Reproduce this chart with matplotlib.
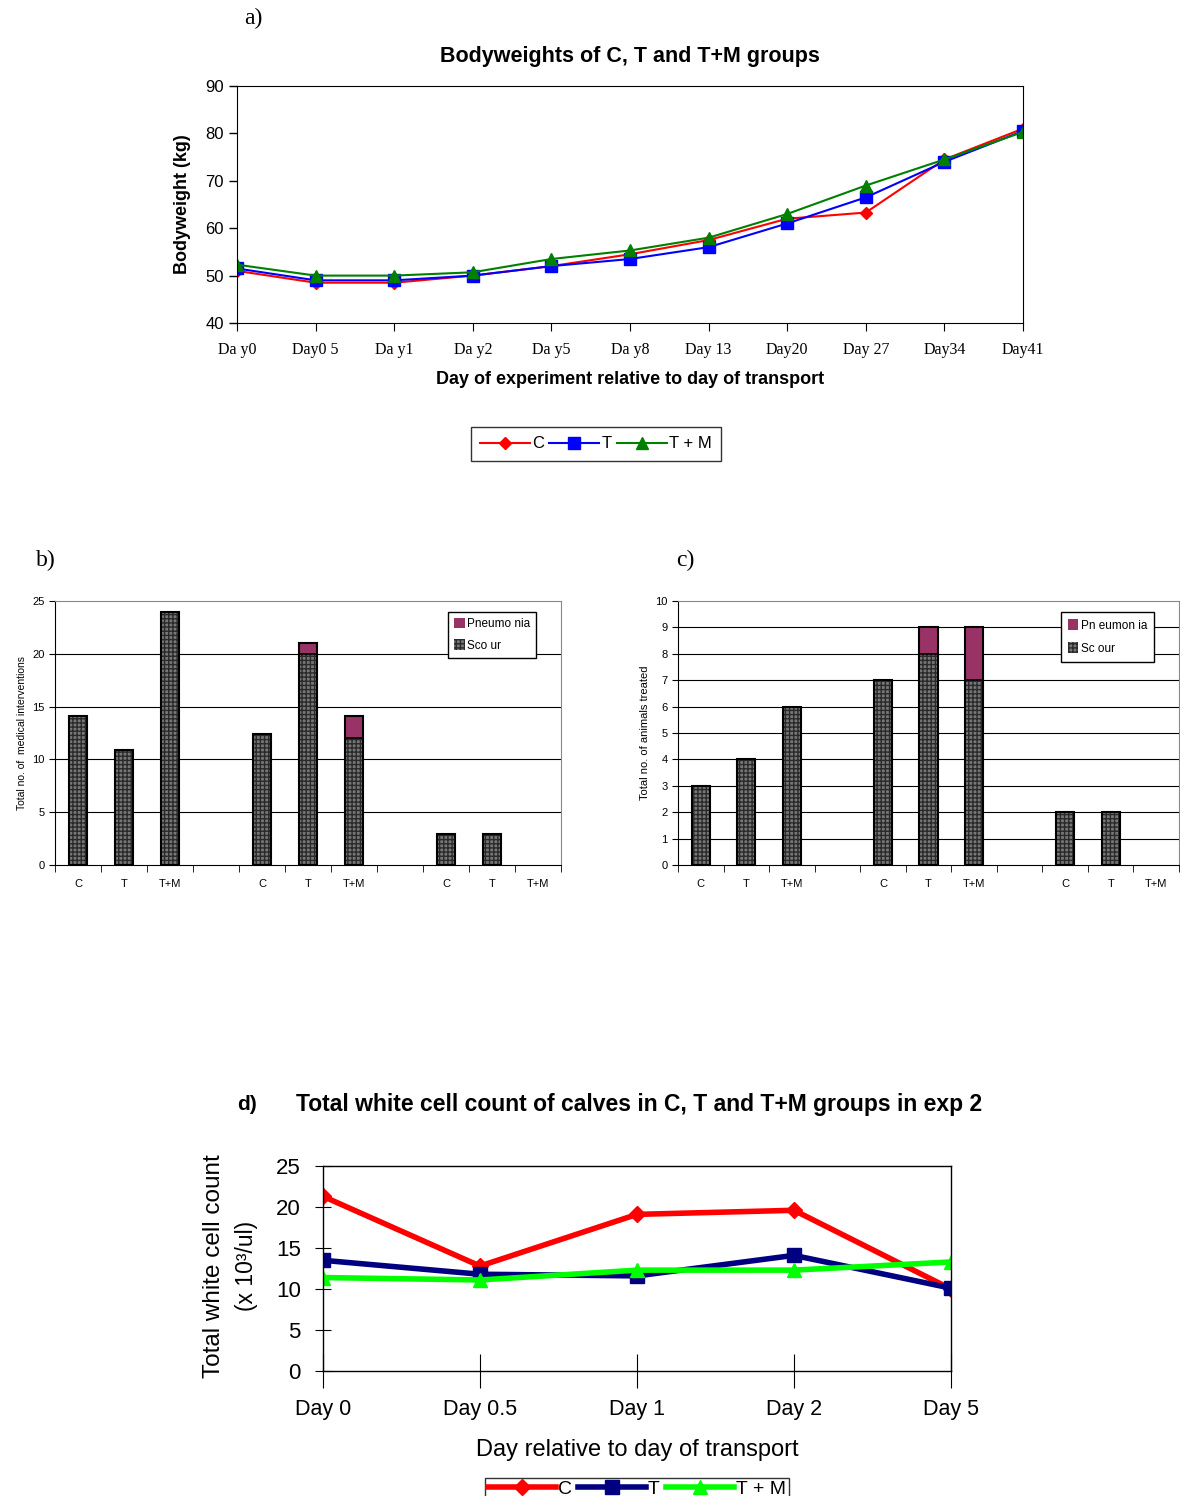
import matplotlib
matplotlib.use("Agg")
import matplotlib.pyplot as plt
import numpy as np

plt.rcParams['font.family'] = ['Liberation Sans', 'DejaVu Sans']

# --- a) bodyweights ---
days_a = ["Da y0", "Day0 5", "Da y1", "Da y2", "Da y5", "Da y8", "Day 13",
          "Day20", "Day 27", "Day34", "Day41"]
bw_c = [51.0, 48.5, 48.5, 50.0, 52.0, 54.5, 57.5, 62.0, 63.3, 74.5, 81.0]
bw_t = [51.5, 49.0, 49.0, 50.0, 52.0, 53.5, 56.0, 61.0, 66.5, 74.0, 80.5]
bw_tm = [52.3, 50.0, 50.0, 50.7, 53.5, 55.3, 58.0, 63.0, 69.0, 74.5, 80.3]

# --- b) / c) treatments ---
groups = ["C", "T", "T+M", "", "C", "T", "T+M", "", "C", "T", "T+M"]
b_scour = [14.1, 10.9, 24.0, 0, 12.4, 20.0, 12.0, 0, 2.9, 2.9, 0]
b_pneu = [0, 0, 0, 0, 0, 1.0, 2.1, 0, 0, 0, 0]
c_scour = [3, 4, 6, 0, 7, 8, 7, 0, 2, 2, 0]
c_pneu = [0, 0, 0, 0, 0, 1, 2, 0, 0, 0, 0]

# --- d) white cell count ---
days_d = ["Day 0", "Day 0.5", "Day 1", "Day 2", "Day 5"]
wcc_c = [21.3, 12.8, 19.1, 19.6, 10.0]
wcc_t = [13.5, 11.8, 11.6, 14.1, 10.1]
wcc_tm = [11.4, 11.1, 12.3, 12.3, 13.3]

W, H = 1180, 1496
fig = plt.figure(figsize=(W / 100, H / 100), dpi=100)


def box(l, t, r, b):
    return fig.add_axes([l / W, 1 - b / H, (r - l) / W, (b - t) / H])


# ---------------- panel a ----------------
ax = box(237, 86, 1023, 323)
x = np.arange(len(days_a))
ax.plot(x, bw_c, color='red', marker='D', ms=6, lw=1.5, label='C')
ax.plot(x, bw_t, color='blue', marker='s', ms=8, lw=1.5, label='T')
ax.plot(x, bw_tm, color='green', marker='^', ms=8, lw=1.5, label='T + M')
ax.set_xlim(0, 10)
ax.set_ylim(40, 90)
ax.set_xticks(x)
ax.set_xticklabels(days_a, family='Liberation Serif', fontsize=11.5)
ax.set_yticks(range(40, 91, 10))
ax.tick_params(axis='y', labelsize=12, length=6, width=1)
ax.tick_params(axis='x', length=6, pad=8)
ax.set_ylabel("Bodyweight (kg)", fontsize=13, fontweight='bold', labelpad=10)
ax.set_xlabel("Day of experiment relative to day of transport", fontsize=13,
              fontweight='bold', labelpad=9)
ax.set_title("Bodyweights of C, T and T+M groups", fontsize=15.5,
             fontweight='bold', pad=17)
ax.legend(loc='center', bbox_to_anchor=(596 / W, 1 - 444 / H),
          bbox_transform=fig.transFigure, ncol=3, frameon=True, fancybox=False,
          edgecolor='black', fontsize=12, handlelength=3, columnspacing=0.3,
          handletextpad=0.15, borderpad=0.55)
fig.text(244 / W, 1 - 18 / H, "a)", family='Liberation Serif', fontsize=17,
         va='center')


def bar_panel(ax, scour, pneu, ymax, step, ylabel, labels, lab_fs):
    pos = np.arange(len(groups))
    ax.bar(pos, scour, width=0.4, color='#777777', edgecolor='#2a2a2a',
           hatch='++++', lw=0, zorder=3, label=labels[1])
    ax.bar(pos, pneu, width=0.4, bottom=scour, color='#993366', lw=0,
           zorder=3, label=labels[0])
    tot = np.array(scour) + np.array(pneu)
    for p, s, t in zip(pos, scour, tot):
        if t > 0:
            ax.bar(p, t, width=0.4, fill=False, edgecolor='black', lw=1.5,
                   zorder=4)
            if t > s:
                ax.plot([p - 0.2, p + 0.2], [s, s], color='black', lw=1.2,
                        zorder=5)
    ax.set_xlim(-0.5, 10.5)
    ax.set_ylim(0, ymax)
    ax.set_yticks(np.arange(0, ymax + 0.1, step))
    for v in np.arange(step, ymax, step):
        ax.axhline(v, color='black', lw=0.8, zorder=1)
    ax.set_xticks(pos)
    ax.set_xticklabels(groups, fontsize=8)
    ax.set_xticks(np.arange(-0.5, 11, 1), minor=True)
    ax.tick_params(axis='x', which='major', length=0, pad=10)
    ax.tick_params(axis='x', which='minor', length=5)
    ax.tick_params(axis='y', labelsize=8, length=4)
    ax.spines['top'].set_color('#888888')
    ax.spines['right'].set_color('#888888')
    ax.set_ylabel(ylabel, fontsize=lab_fs)
    h, l = ax.get_legend_handles_labels()
    return h, l


# ---------------- panel b ----------------
axb = box(55, 601, 561, 865)
h, l = bar_panel(axb, b_scour, b_pneu, 25, 5,
                 "Total no. of  medical interventions",
                 ["Pneumo nia", "Sco ur"], 7.5)
axb.legend([h[1], h[0]], [l[1], l[0]], loc='upper right',
           bbox_to_anchor=(0.963, 0.982), fancybox=False, edgecolor='black',
           fontsize=8.5, handlelength=0.9, handleheight=1.0, handletextpad=0.2,
           borderpad=0.5, labelspacing=0.8, framealpha=1)
fig.text(36 / W, 1 - 560 / H, "b)", family='Liberation Serif', fontsize=17,
         va='center')

# ---------------- panel c ----------------
axc = box(678, 601, 1179, 865)
h, l = bar_panel(axc, c_scour, c_pneu, 10, 1,
                 "Total no. of animals treated",
                 ["Pn eumon ia", "Sc our"], 8)
axc.legend([h[1], h[0]], [l[1], l[0]], loc='upper right',
           bbox_to_anchor=(0.962, 0.98), fancybox=False, edgecolor='black',
           fontsize=8.5, handlelength=0.9, handleheight=1.0, handletextpad=0.2,
           borderpad=0.6, labelspacing=0.9, framealpha=1)
fig.text(676 / W, 1 - 560 / H, "c)", family='Liberation Serif', fontsize=17,
         va='center')

# ---------------- panel d ----------------
axd = box(323, 1166, 951, 1371)
xd = np.arange(len(days_d))
axd.plot(xd, wcc_c, color='#ff0000', marker='D', ms=8, lw=4, label='C')
axd.plot(xd, wcc_t, color='#000080', marker='s', ms=10, lw=4, label='T')
axd.plot(xd, wcc_tm, color='#00ff00', marker='^', ms=10, lw=4, label='T + M')
axd.set_xlim(0, 4)
axd.set_ylim(0, 25)
axd.set_xticks(xd)
axd.set_xticklabels(days_d, fontsize=15.5)
axd.set_yticks(range(0, 26, 5))
axd.tick_params(axis='y', labelsize=16, direction='inout', length=12, pad=10)
axd.tick_params(axis='x', direction='inout', length=24, pad=8)
for s in axd.spines.values():
    s.set_linewidth(1)
fig.text(237 / W, 1 - 1105 / H, "d)", fontsize=15, fontweight='bold',
         va='center')
fig.text(296 / W, 1 - 1105 / H,
         "Total white cell count of calves in C, T and T+M groups in exp 2",
         fontsize=16.5, fontweight='bold', va='center')
fig.text(214 / W, 1 - 1266 / H, "Total white cell count", rotation=90,
         fontsize=17.5, ha='center', va='center')
fig.text(246 / W, 1 - 1266 / H, "(x 10³/ul)", rotation=90,
         fontsize=16.5, ha='center', va='center')
fig.text(637 / W, 1 - 1450 / H, "Day relative to day of transport",
         fontsize=17, ha='center', va='center')
axd.legend(loc='upper center', bbox_to_anchor=(637 / W, 1 - 1468 / H),
           bbox_transform=fig.transFigure, ncol=3, fancybox=False,
           edgecolor='black', fontsize=14, handlelength=3.5, columnspacing=0.3,
           handletextpad=0.1, borderpad=0.15)

fig.savefig("out.png", dpi=100)
